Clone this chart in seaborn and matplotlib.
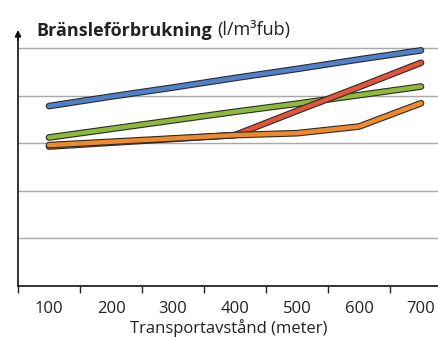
import matplotlib
matplotlib.use("Agg")
import matplotlib.pyplot as plt
import matplotlib.patheffects as pe
import numpy as np
import pandas as pd
import seaborn as sns

sns.set_theme(style="white")
plt.rcParams['font.family'] = ['Open Sans', 'DejaVu Sans']

# data (y in grid units, the axis has no labels)
distance = [100, 200, 300, 400, 500, 600, 700]
blue = [3.78, 3.98, 4.17, 4.37, 4.56, 4.76, 4.95]
green = [3.12, 3.30, 3.48, 3.66, 3.83, 4.01, 4.19]
red = [2.93, 3.01, 3.09, 3.17, 3.68, 4.18, 4.69]
orange = [2.96, 3.03, 3.10, 3.17, 3.21, 3.35, 3.84]
xticks = [100, 200, 300, 400, 500, 600, 700]

series = [("green", green, "#8dba3b", 2),
          ("red", red, "#e2553b", 3),
          ("orange", orange, "#ef8a2c", 4),
          ("blue", blue, "#4f80c9", 5)]

fig = plt.figure(figsize=(4.39, 3.38), dpi=100)
ax = fig.add_axes([18 / 439, 52 / 338, 421 / 439, 256 / 338])

for name, vals, col, z in series:
    df = pd.DataFrame({"x": distance, "y": vals})
    sns.lineplot(data=df, x="x", y="y", ax=ax, color=col, lw=3.2,
                 solid_capstyle="round", solid_joinstyle="round", zorder=z,
                 path_effects=[pe.Stroke(linewidth=4.8, foreground="#2a2a2a"), pe.Normal()])

ax.set_xlim(50, 729)
ax.set_ylim(0, 256 / 47.6)
for g in range(1, 6):
    ax.axhline(g, color="#a8a8a8", lw=1.0, zorder=1)

ax.set_xticks(xticks)
ax.set_xticklabels([str(t) for t in xticks], fontsize=12, color="#222222")
ax.set_xticks(np.arange(50, 700, 100), minor=True)
ax.tick_params(axis="x", which="major", length=0, pad=11)
ax.tick_params(axis="x", which="minor", bottom=True, length=5, width=1, color="#222222")
ax.set_yticks([])
ax.set_xlabel("Transportavstånd (meter)", fontsize=12, color="#222222", labelpad=1)
ax.set_ylabel("")

for s in ["top", "right"]:
    ax.spines[s].set_visible(False)
for s in ["left", "bottom"]:
    ax.spines[s].set_color("#111111")
    ax.spines[s].set_linewidth(1.2)
ax.spines["left"].set_bounds(0, 5.25)

ax.annotate("", xy=(0, 1.0), xytext=(0, 0.96), xycoords="axes fraction",
            arrowprops=dict(arrowstyle="-|>", color="#111111", lw=1.2,
                            mutation_scale=9, shrinkA=0, shrinkB=0))

t1 = fig.text(36 / 439, 1 - 35.5 / 338, "Bränsleförbrukning", fontsize=13,
              fontweight="bold", color="#222222", va="baseline", ha="left")
fig.canvas.draw()
bb = t1.get_window_extent()
fig.text((bb.x1 + 5) / (4.39 * 100), 1 - 35.5 / 338, "(l/m³fub)", fontsize=13,
         color="#222222", va="baseline", ha="left")

fig.savefig("out.png", dpi=100)
